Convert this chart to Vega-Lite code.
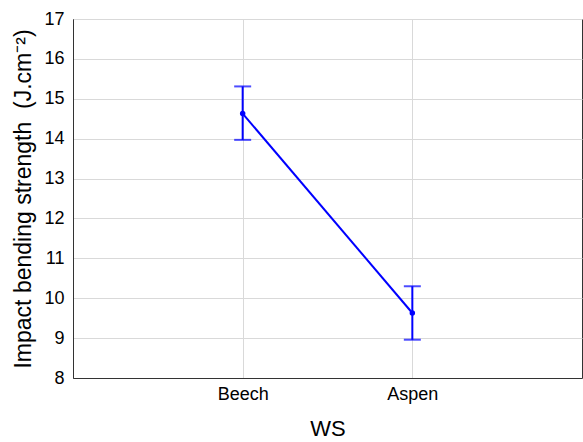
{
  "$schema": "https://vega.github.io/schema/vega-lite/v6.json",
  "width": 509,
  "height": 359,
  "autosize": {"type": "none"},
  "padding": {"left": 73, "top": 19, "right": 1, "bottom": 64},
  "background": "white",
  "config": {
    "font": "Liberation Sans",
    "view": {"stroke": "#333333", "strokeWidth": 1},
    "axis": {
      "labelFont": "Liberation Sans",
      "titleFont": "Liberation Sans",
      "labelColor": "black",
      "titleColor": "black",
      "gridColor": "#d9d9d9",
      "gridWidth": 1,
      "domainColor": "#333333",
      "ticks": false,
      "titleFontWeight": "normal",
      "labelOverlap": false
    },
    "axisY": {
      "labelFontSize": 18,
      "titleFontSize": 23,
      "labelPadding": 9,
      "titlePadding": 8,
      "grid": true
    },
    "axisX": {
      "labelFontSize": 18,
      "titleFontSize": 22,
      "labelPadding": 7,
      "titlePadding": 15,
      "labelAngle": 0,
      "grid": true
    }
  },
  "data": {
    "values": [
      {"ws": "Beech", "mean": 14.63, "lo": 13.97, "hi": 15.31},
      {"ws": "Aspen", "mean": 9.63, "lo": 8.96, "hi": 10.3}
    ]
  },
  "encoding": {
    "x": {
      "field": "ws",
      "type": "nominal",
      "sort": ["Beech", "Aspen"],
      "scale": {"type": "point", "padding": 1},
      "axis": {"title": "WS", "labelAngle": 0}
    }
  },
  "layer": [
    {
      "mark": {"type": "rule", "color": "#0000ff", "strokeWidth": 2},
      "encoding": {
        "y": {
          "field": "lo",
          "type": "quantitative",
          "scale": {"domain": [8, 17], "nice": false, "zero": false},
          "axis": {"title": "Impact bending strength\u00a0 (J.cm⁻²)", "values": [8, 9, 10, 11, 12, 13, 14, 15, 16, 17]}
        },
        "y2": {"field": "hi"}
      }
    },
    {
      "mark": {"type": "tick", "color": "#0000ff", "thickness": 2, "size": 17},
      "encoding": {"y": {"field": "lo", "type": "quantitative", "axis": {"title": "Impact bending strength\u00a0 (J.cm⁻²)", "values": [8, 9, 10, 11, 12, 13, 14, 15, 16, 17]}}}
    },
    {
      "mark": {"type": "tick", "color": "#0000ff", "thickness": 2, "size": 17},
      "encoding": {"y": {"field": "hi", "type": "quantitative", "axis": {"title": "Impact bending strength\u00a0 (J.cm⁻²)", "values": [8, 9, 10, 11, 12, 13, 14, 15, 16, 17]}}}
    },
    {
      "mark": {"type": "line", "color": "#0000ff", "strokeWidth": 2, "point": {"filled": true, "size": 30, "color": "#0000ff"}},
      "encoding": {"y": {"field": "mean", "type": "quantitative", "axis": {"title": "Impact bending strength\u00a0 (J.cm⁻²)", "values": [8, 9, 10, 11, 12, 13, 14, 15, 16, 17]}}}
    }
  ]
}
